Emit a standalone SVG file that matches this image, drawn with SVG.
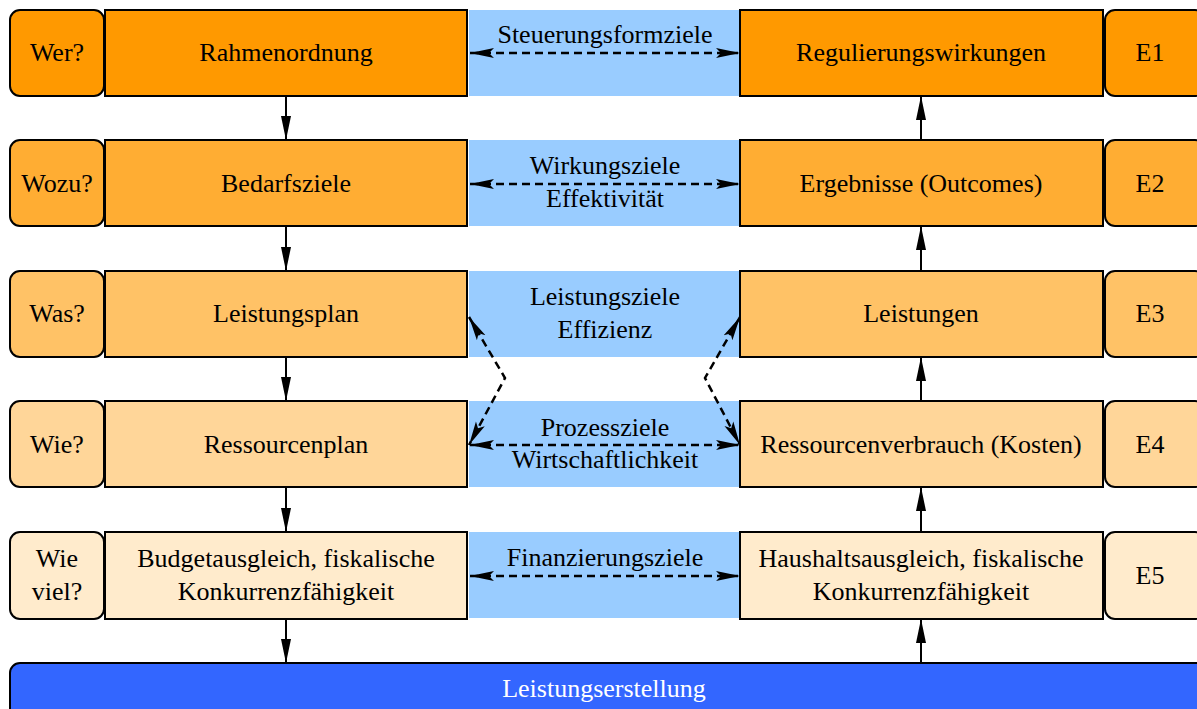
<svg xmlns="http://www.w3.org/2000/svg" width="1197" height="709" viewBox="0 0 1197 709">
<style>
text{font-family:"Liberation Serif","Times New Roman",serif;font-size:26px;fill:#000;text-anchor:middle}
.b{stroke:#000;stroke-width:2}
.r1{fill:#FF9900}.r2{fill:#FFAD33}.r3{fill:#FFC266}.r4{fill:#FFD699}.r5{fill:#FFEBCC}
.band{fill:#99CCFF}
.v{stroke:#000;stroke-width:2;fill:none;marker-end:url(#ah)}
.d{stroke:#000;stroke-width:2.5;fill:none;stroke-dasharray:8 5;marker-start:url(#dh);marker-end:url(#dh)}
</style>
<defs>
<marker id="ah" markerUnits="userSpaceOnUse" markerWidth="26" markerHeight="12" refX="24" refY="6" orient="auto"><path d="M0,1 L24,6 L0,11 Z" fill="#000"/></marker>
<marker id="dh" markerUnits="userSpaceOnUse" markerWidth="26" markerHeight="12" refX="24" refY="6" orient="auto-start-reverse"><path d="M0,1 L24,6 L0,11 L5,6 Z" fill="#000"/></marker>
</defs>
<g id="bands">
<rect class="band" x="469" y="10" width="271" height="86"/>
<rect class="band" x="469" y="140" width="271" height="86"/>
<rect class="band" x="469" y="271" width="271" height="86"/>
<rect class="band" x="469" y="401" width="271" height="86"/>
<rect class="band" x="469" y="532" width="271" height="86"/>
</g>
<g id="row1">
<rect class="b r1" x="10" y="10" width="94" height="86" rx="10"/>
<text x="57" y="61">Wer?</text>
<rect class="b r1" x="105" y="10" width="362" height="86"/>
<text x="286" y="61">Rahmenordnung</text>
<rect class="b r1" x="740" y="10" width="363" height="86"/>
<text x="921" y="61">Regulierungswirkungen</text>
<rect class="b r1" x="1105" y="10" width="100" height="86" rx="10"/>
<text x="1150" y="61">E1</text>
<text x="605" y="43">Steuerungsformziele</text>
</g>
<g id="row2">
<rect class="b r2" x="10" y="140" width="94" height="86" rx="10"/>
<text x="57" y="192">Wozu?</text>
<rect class="b r2" x="105" y="140" width="362" height="86"/>
<text x="286" y="192">Bedarfsziele</text>
<rect class="b r2" x="740" y="140" width="363" height="86"/>
<text x="921" y="192">Ergebnisse (Outcomes)</text>
<rect class="b r2" x="1105" y="140" width="100" height="86" rx="10"/>
<text x="1150" y="192">E2</text>
<text x="605" y="174">Wirkungsziele</text>
<text x="605" y="207">Effektivität</text>
</g>
<g id="row3">
<rect class="b r3" x="10" y="271" width="94" height="86" rx="10"/>
<text x="57" y="322">Was?</text>
<rect class="b r3" x="105" y="271" width="362" height="86"/>
<text x="286" y="322">Leistungsplan</text>
<rect class="b r3" x="740" y="271" width="363" height="86"/>
<text x="921" y="322">Leistungen</text>
<rect class="b r3" x="1105" y="271" width="100" height="86" rx="10"/>
<text x="1150" y="322">E3</text>
<text x="605" y="305">Leistungsziele</text>
<text x="605" y="338">Effizienz</text>
</g>
<g id="row4">
<rect class="b r4" x="10" y="401" width="94" height="86" rx="10"/>
<text x="57" y="453">Wie?</text>
<rect class="b r4" x="105" y="401" width="362" height="86"/>
<text x="286" y="453">Ressourcenplan</text>
<rect class="b r4" x="740" y="401" width="363" height="86"/>
<text x="921" y="453">Ressourcenverbrauch (Kosten)</text>
<rect class="b r4" x="1105" y="401" width="100" height="86" rx="10"/>
<text x="1150" y="453">E4</text>
<text x="605" y="436">Prozessziele</text>
<text x="605" y="468">Wirtschaftlichkeit</text>
</g>
<g id="row5">
<rect class="b r5" x="10" y="532" width="94" height="87" rx="10"/>
<text x="57" y="567">Wie</text>
<text x="57" y="600">viel?</text>
<rect class="b r5" x="105" y="532" width="362" height="87"/>
<text x="286" y="567">Budgetausgleich, fiskalische</text>
<text x="286" y="600">Konkurrenzfähigkeit</text>
<rect class="b r5" x="740" y="532" width="363" height="87"/>
<text x="921" y="567">Haushaltsausgleich, fiskalische</text>
<text x="921" y="600">Konkurrenzfähigkeit</text>
<rect class="b r5" x="1105" y="532" width="100" height="87" rx="10"/>
<text x="1150" y="584">E5</text>
<text x="605" y="566">Finanzierungsziele</text>
</g>
<g id="base">
<rect class="b" x="10" y="663" width="1200" height="60" rx="10" fill="#3366FF"/>
<text x="604" y="697" style="fill:#fff">Leistungserstellung</text>
</g>
<g id="connectors">
<path class="v" d="M286,96 L286,140"/>
<path class="v" d="M286,226 L286,271"/>
<path class="v" d="M286,357 L286,401"/>
<path class="v" d="M286,487 L286,532"/>
<path class="v" d="M286,619 L286,663"/>
<path class="v" d="M921,140 L921,96"/>
<path class="v" d="M921,271 L921,226"/>
<path class="v" d="M921,401 L921,357"/>
<path class="v" d="M921,532 L921,487"/>
<path class="v" d="M921,663 L921,619"/>
<path class="d" d="M470,53 L740,53"/>
<path class="d" d="M470,184 L740,184"/>
<path class="d" d="M470,445 L740,445"/>
<path class="d" d="M470,576 L740,576"/>
<path class="d" d="M469,317 L505,378 L469,445"/>
<path class="d" d="M740,317 L705,378 L740,445"/>
</g>
</svg>
